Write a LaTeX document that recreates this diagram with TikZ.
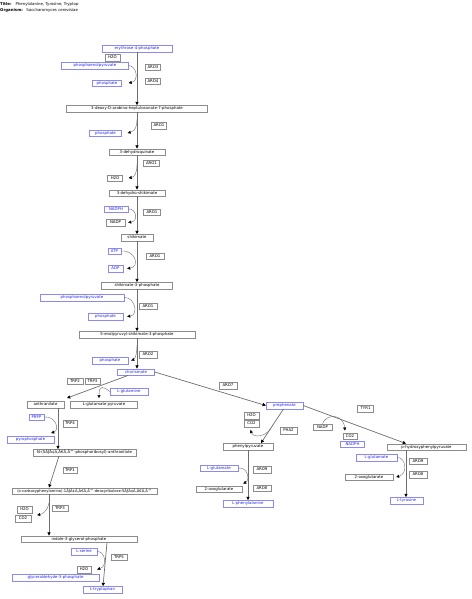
\documentclass[tikz,border=0pt]{standalone}
\usepackage{fontspec}
\setmainfont{DejaVu Sans}
\usetikzlibrary{arrows.meta}
\definecolor{bluetxt}{HTML}{2424E6}
\definecolor{blueedge}{HTML}{8A8AF2}
\definecolor{greyedge}{HTML}{8C8C8C}
\definecolor{linecol}{HTML}{6E6E6E}
\newcommand{\pfont}{\fontsize{3.9}{4.5}\selectfont}
\begin{document}
\begin{tikzpicture}[x=1pt,y=-1pt,
  cmp/.style={draw=greyedge, line width=0.4pt, fill=white, text=black, font=\pfont, inner sep=0pt, minimum height=6.5pt, anchor=center},
  bcmp/.style={cmp, draw=blueedge, text=bluetxt},
  mainrx/.style={draw=linecol, line width=0.7pt, -{Triangle[length=3.2pt,width=3.2pt,color=black]}},
  siderx/.style={draw=linecol, line width=0.4pt, -{Triangle[length=3pt,width=3pt,color=black]}},
  hdr/.style={anchor=west, font=\pfont, inner sep=0pt}
]
\fill[white] (0,0) rectangle (471,599);
\useasboundingbox (0,0) rectangle (471,599);

\node[hdr] (title) at (0,4) {\textbf{Title:}\hspace{4pt}Phenylalanine, Tyrosine, Tryptop};
\node[hdr] (org) at (0,10) {\textbf{Organism:}\hspace{3.5pt}Saccharomyces cerevisiae};

% common aromatic pathway
\node[bcmp, minimum width=70pt] (e4p) at (137,48.5) {erythrose-4-phosphate};
\node[cmp, minimum width=15pt] (h2o1) at (112.5,57.5) {H2O};
\node[bcmp, minimum width=67pt] (pep1) at (95,65.5) {phosphoenolpyruvate};
\node[cmp, minimum width=15pt] (aro3) at (153,67) {ARO3};
\node[cmp, minimum width=15pt] (aro4) at (153,81) {ARO4};
\node[bcmp, minimum width=29pt] (pi1) at (107,83) {phosphate};
\node[cmp, minimum width=141pt] (dahp) at (137,108.5) {3-deoxy-D-arabino-heptulosonate-7-phosphate};
\node[cmp, minimum width=15pt] (aro1a) at (159,125.5) {ARO1};
\node[bcmp, minimum width=32pt] (pi2) at (105.5,133) {phosphate};
\node[cmp, minimum width=56pt] (dhq) at (137,152) {3-dehydroquinate};
\node[cmp, minimum width=16pt] (aro1b) at (151.5,163) {ARO1};
\node[cmp, minimum width=15pt] (h2o2) at (115,178) {H2O};
\node[cmp, minimum width=56pt] (dhs) at (137,193) {3-dehydro-shikimate};
\node[bcmp, minimum width=24pt] (nadph1) at (116,209) {NADPH};
\node[cmp, minimum width=17pt] (aro1c) at (152,212) {ARO1};
\node[cmp, minimum width=19pt] (nadp1) at (115.5,222.5) {NADP};
\node[cmp, minimum width=32pt] (shik) at (137,237.5) {shikimate};
\node[bcmp, minimum width=13pt] (atp) at (114.5,251) {ATP};
\node[cmp, minimum width=18pt] (aro1d) at (155,256) {ARO1};
\node[bcmp, minimum width=15pt] (adp) at (115.5,268.5) {ADP};
\node[cmp, minimum width=71pt] (s3p) at (137,285.5) {shikimate-3-phosphate};
\node[bcmp, minimum width=84pt] (pep2) at (82,297.5) {phosphoenolpyruvate};
\node[cmp, minimum width=18pt] (aro1e) at (148,306) {ARO1};
\node[bcmp, minimum width=35pt] (pi3) at (105.5,316.5) {phosphate};
\node[cmp, minimum width=116pt] (epsp) at (137,334.5) {5-enolpyruvyl-shikimate-3-phosphate};
\node[cmp, minimum width=18pt] (aro2) at (148,354.5) {ARO2};
\node[bcmp, minimum width=36pt] (pi4) at (110,360.5) {phosphate};
\node[bcmp, minimum width=37pt] (chor) at (136,372) {chorismate};

% branch to anthranilate
\node[cmp, minimum width=16pt] (trp2) at (75,381) {TRP2};
\node[cmp, minimum width=15pt] (trp3a) at (92.5,381) {TRP3};
\node[bcmp, minimum width=38pt] (gln) at (129,391.5) {L-glutamine};
\node[cmp, minimum width=37pt] (anth) at (45.5,404.5) {anthranilate};
\node[cmp, minimum width=67pt] (glupyr) at (104,404.5) {L-glutamate pyruvate};

% prephenate branch
\node[cmp, minimum width=18pt] (aro7) at (228,385.5) {ARO7};
\node[bcmp, minimum width=37pt] (preph) at (284.5,405.5) {prephenate};
\node[cmp, minimum width=15pt] (h2o3) at (251.5,415.5) {H2O};
\node[cmp, minimum width=15pt] (co2a) at (251.5,423.5) {CO2};
\node[cmp, minimum width=17pt] (pha2) at (288.5,430.5) {PHA2};
\node[cmp, minimum width=50pt] (phpyr) at (248,446.5) {phenylpyruvate};
\node[cmp, minimum width=16pt] (tyr1) at (365.5,408.5) {TYR1};
\node[cmp, minimum width=19pt] (nadp2) at (322.5,427) {NADP};
\node[cmp, minimum width=14pt] (co2b) at (350,436) {CO2};
\node[bcmp, minimum width=24pt] (nadph2) at (352.5,444) {NADPH};
\node[cmp, minimum width=79pt] (hpp) at (426.5,447) {p-hydroxyphenylpyruvate};
\node[bcmp, minimum width=38pt] (glu1) at (219,468) {L-glutamate};
\node[cmp, minimum width=18pt] (aro9a) at (262,469.5) {ARO9};
\node[cmp, minimum width=18pt] (aro8a) at (262,488) {ARO8};
\node[cmp, minimum width=46pt] (oxo1) at (219,489) {2-oxoglutarate};
\node[bcmp, minimum width=50pt] (phe) at (248,503.5) {L-phenylalanine};
\node[bcmp, minimum width=41pt] (glu2) at (376.5,457.5) {L-glutamate};
\node[cmp, minimum width=18pt] (aro9b) at (418,461) {ARO9};
\node[cmp, minimum width=18pt] (aro8b) at (418,474.5) {ARO8};
\node[cmp, minimum width=48pt] (oxo2) at (369,477) {2-oxoglutarate};
\node[bcmp, minimum width=33pt] (tyr) at (406.5,500.5) {L-tyrosine};

% tryptophan branch
\node[bcmp, minimum width=15pt] (prpp) at (36.5,417) {PRPP};
\node[cmp, minimum width=14pt] (trp4) at (70,423.5) {TRP4};
\node[bcmp, minimum width=47pt] (ppi) at (30.5,439.5) {pyrophosphate};
\node[cmp, minimum width=103pt] (pra) at (84.5,452.5) {N-(5ÃƒÂ¢Ã‚Â€Ã‚Â™-phosphoribosyl)-anthranilate};
\node[cmp, minimum width=14pt] (trp1) at (70,470) {TRP1};
\node[cmp, minimum width=145pt, font=\fontsize{3.7}{4.5}\selectfont] (cdrp) at (84.5,491) {(o-carboxyphenylamino)-1ÃƒÂ¢Ã‚Â€Ã‚Â™-deoxyribulose-5ÃƒÂ¢Ã‚Â€Ã‚Â™};
\node[cmp, minimum width=15pt] (h2o4) at (24.5,509.5) {H2O};
\node[cmp, minimum width=16pt] (co2c) at (23,518.5) {CO2};
\node[cmp, minimum width=16pt] (trp3b) at (60,508) {TRP3};
\node[cmp, minimum width=116pt] (igp) at (79,539) {indole-3-glycerol-phosphate};
\node[bcmp, minimum width=26pt] (ser) at (84,551.5) {L-serine};
\node[cmp, minimum width=16pt] (trp5) at (119,557) {TRP5};
\node[cmp, minimum width=14pt] (h2o5) at (84,569.5) {H2O};
\node[bcmp, minimum width=87pt] (g3p) at (55.5,577.5) {glyceraldehyde-3-phosphate};
\node[bcmp, minimum width=39pt] (trp) at (102.5,589.5) {L-tryptophan};

% junction points on main lines
\coordinate (k1) at (137,119);
\coordinate (k2) at (137,164);
\coordinate (k3) at (137,345);
\coordinate (k4) at (271,428);
\coordinate (k5) at (49,503);

% main reactions and side reactions
\draw[mainrx] (e4p.south) -- (dahp.north);
\draw[siderx] (pep1.east) .. controls (137,66) and (139,81) .. ([xshift=7pt]pi1.east);

\draw[mainrx] (dahp.south) -- (dhq.north);
\draw[siderx] (k1) .. controls (137,127) and (135,131) .. ([xshift=6pt]pi2.east);

\draw[mainrx] (dhq.south) -- (dhs.north);
\draw[siderx] (k2) .. controls (137,172) and (135,177) .. ([xshift=6pt]h2o2.east);

\draw[mainrx] (dhs.south) -- (shik.north);
\draw[siderx] (nadph1.east) .. controls (136,208) and (139,221) .. ([xshift=3pt]nadp1.east);

\draw[mainrx] (shik.south) -- (s3p.north);
\draw[siderx] (atp.east) .. controls (136,250) and (140,267) .. ([xshift=4pt]adp.east);

\draw[mainrx] (s3p.south) -- (epsp.north);
\draw[siderx] (pep2.east) .. controls (135,297) and (139,315) .. ([xshift=4pt]pi3.east);

\draw[mainrx] (epsp.south) -- (epsp.south |- chor.north);
\draw[siderx] (k3) .. controls (137,354) and (135,359) .. ([xshift=3pt]pi4.east);

\draw[mainrx] ([xshift=-8pt]chor.south) -- ([xshift=21.5pt,yshift=3pt]anth.north);
\draw[siderx] (gln.west) .. controls (103,386) and (99,385) .. ([xshift=-5pt,yshift=3pt]glupyr.north);

\draw[mainrx] (chor.east) -- (preph.west);
\draw[mainrx] ([xshift=-1pt]preph.south) -- ([xshift=13pt]phpyr.north);
\draw[siderx] (k4) .. controls (266,437) and (253,438) .. ([xshift=-1pt,yshift=-3pt]co2a.south);

\draw[mainrx] (preph.east) -- ([xshift=-20.5pt]hpp.north);
\draw[siderx] (nadp2.north) .. controls (326,414) and (343,413) .. ([xshift=-5pt,yshift=2pt]co2b.north);

\draw[mainrx] (phpyr.south) -- (phe.north);
\draw[siderx] (glu1.east) .. controls (248,467) and (250,480) .. ([xshift=1pt,yshift=2pt]oxo1.north east);

\draw[mainrx] ([xshift=-20.5pt]hpp.south) -- ([xshift=-20.5pt]hpp.south |- tyr.north);
\draw[siderx] (glu2.east) .. controls (406,457) and (408,474) .. ([xshift=3pt]oxo2.east);

\draw[mainrx] ([xshift=12.5pt]anth.south) -- ([xshift=12.5pt]anth.south |- pra.north);
\draw[siderx] (prpp.east) .. controls (56,416) and (60,430) .. ([xshift=-3pt,yshift=3pt]ppi.north east);

\draw[mainrx] ([xshift=-25.5pt]pra.south) -- ([xshift=-35.5pt]cdrp.north);
\draw[mainrx] ([xshift=-35.5pt]cdrp.south) -- ([xshift=-35.5pt]cdrp.south |- igp.north);
\draw[siderx] (k5) .. controls (48,510) and (43,514) .. ([xshift=6pt]co2c.north east);

\draw[mainrx] ([xshift=28pt]igp.south) -- ([xshift=0.5pt]trp.north);
\draw[siderx] (ser.east) .. controls (105,551) and (108,566) .. ([xshift=6pt]h2o5.east);
\end{tikzpicture}
\end{document}
